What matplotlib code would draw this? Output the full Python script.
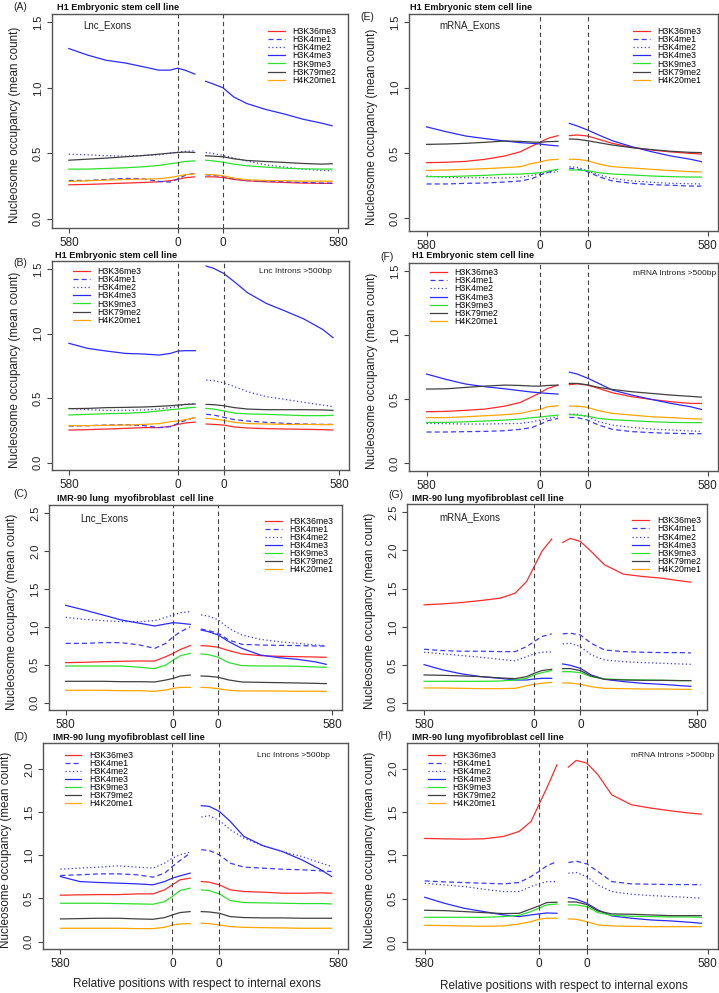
import matplotlib.pyplot as plt

plt.rcParams['font.family'] = ['Liberation Sans', 'DejaVu Sans']

marks = ['H3K36me3', 'H3K4me1', 'H3K4me2', 'H3K4me3', 'H3K9me3', 'H3K79me2', 'H4K20me1']
colors = ['#ff2a2a', '#3a3aff', '#3a3aff', '#2a2aff', '#2ee02e', '#404040', '#ffa500']
styles = ['-', (0, (4, 2.5)), (0, (1, 2)), '-', '-', '-', '-']

# position index: upstream intron + exon start (left), exon end + downstream intron (right)
x_left = [0, 100, 200, 300, 400, 480, 540, 580, 620, 672]
x_right = [730, 770, 823, 880, 950, 1050, 1150, 1250, 1350, 1405]
tick_pos = [0, 580, 823, 1438]
tick_lab = ['580', '0', '0', '580']

# (A) H1, Lnc exons -- first 10 values left segment, last 10 right segment
a_k36me3 = [0.259, 0.262, 0.267, 0.272, 0.277, 0.282, 0.29, 0.30, 0.313, 0.32,
            0.32, 0.32, 0.315, 0.30, 0.29, 0.282, 0.277, 0.272, 0.27, 0.27]
a_k4me1 = [0.292, 0.292, 0.30, 0.308, 0.305, 0.285, 0.28, 0.303, 0.331, 0.348,
           0.336, 0.331, 0.323, 0.305, 0.292, 0.287, 0.282, 0.277, 0.272, 0.272]
a_k4me2 = [0.493, 0.488, 0.481, 0.478, 0.483, 0.488, 0.501, 0.509, 0.514, 0.519,
           0.506, 0.498, 0.483, 0.463, 0.442, 0.412, 0.394, 0.379, 0.369, 0.366]
a_k4me3 = [1.30, 1.25, 1.21, 1.19, 1.16, 1.135, 1.135, 1.15, 1.135, 1.105,
           1.05, 1.03, 1.00, 0.93, 0.88, 0.835, 0.80, 0.76, 0.73, 0.71]
a_k9me3 = [0.379, 0.379, 0.384, 0.389, 0.397, 0.407, 0.42, 0.427, 0.437, 0.442,
           0.447, 0.442, 0.432, 0.417, 0.404, 0.394, 0.386, 0.381, 0.379, 0.379]
a_k79me2 = [0.447, 0.455, 0.463, 0.473, 0.483, 0.493, 0.501, 0.506, 0.509, 0.506,
            0.481, 0.478, 0.473, 0.458, 0.445, 0.437, 0.43, 0.422, 0.417, 0.42]
a_k20me1 = [0.285, 0.29, 0.295, 0.30, 0.303, 0.305, 0.315, 0.325, 0.336, 0.343,
            0.338, 0.336, 0.328, 0.31, 0.297, 0.292, 0.29, 0.287, 0.287, 0.287]

# (B) H1, Lnc introns >500bp
b_k36me3 = [0.253, 0.256, 0.261, 0.266, 0.272, 0.272, 0.282, 0.297, 0.308, 0.315,
            0.30, 0.297, 0.292, 0.277, 0.269, 0.264, 0.261, 0.259, 0.256, 0.253]
b_k4me1 = [0.284, 0.287, 0.292, 0.295, 0.287, 0.272, 0.279, 0.305, 0.328, 0.352,
           0.375, 0.37, 0.352, 0.334, 0.323, 0.313, 0.305, 0.30, 0.297, 0.297]
b_k4me2 = [0.421, 0.411, 0.406, 0.406, 0.409, 0.416, 0.427, 0.437, 0.452, 0.46,
           0.641, 0.636, 0.62, 0.59, 0.551, 0.512, 0.491, 0.468, 0.447, 0.434]
b_k4me3 = [0.926, 0.887, 0.866, 0.848, 0.843, 0.835, 0.848, 0.866, 0.869, 0.869,
           1.526, 1.508, 1.469, 1.404, 1.319, 1.236, 1.177, 1.115, 1.034, 0.97]
b_k9me3 = [0.37, 0.375, 0.38, 0.383, 0.39, 0.401, 0.411, 0.416, 0.424, 0.429,
           0.421, 0.416, 0.401, 0.385, 0.378, 0.375, 0.37, 0.365, 0.365, 0.367]
b_k79me2 = [0.419, 0.421, 0.427, 0.429, 0.432, 0.437, 0.442, 0.447, 0.452, 0.455,
            0.452, 0.45, 0.442, 0.427, 0.416, 0.411, 0.411, 0.411, 0.409, 0.406]
b_k20me1 = [0.287, 0.287, 0.29, 0.292, 0.297, 0.303, 0.318, 0.323, 0.334, 0.349,
            0.344, 0.339, 0.328, 0.313, 0.303, 0.30, 0.297, 0.297, 0.295, 0.295]

# (C) IMR-90, Lnc exons
c_k36me3 = [0.528, 0.533, 0.541, 0.546, 0.55, 0.55, 0.607, 0.651, 0.704, 0.753,
            0.753, 0.748, 0.731, 0.687, 0.643, 0.621, 0.612, 0.607, 0.603, 0.599]
c_k4me1 = [0.783, 0.783, 0.792, 0.792, 0.761, 0.717, 0.783, 0.871, 0.937, 1.003,
           0.973, 0.951, 0.915, 0.827, 0.77, 0.761, 0.757, 0.753, 0.748, 0.748]
c_k4me2 = [1.127, 1.10, 1.083, 1.07, 1.07, 1.083, 1.127, 1.158, 1.188, 1.202,
           1.158, 1.144, 1.092, 0.981, 0.893, 0.836, 0.805, 0.783, 0.761, 0.753]
c_k4me3 = [1.285, 1.224, 1.158, 1.092, 1.048, 1.012, 1.039, 1.056, 1.048, 1.034,
           0.96, 0.937, 0.893, 0.805, 0.717, 0.629, 0.594, 0.572, 0.537, 0.506]
c_k9me3 = [0.484, 0.484, 0.484, 0.484, 0.467, 0.449, 0.497, 0.563, 0.621, 0.651,
           0.643, 0.634, 0.599, 0.528, 0.489, 0.484, 0.484, 0.48, 0.471, 0.467]
c_k79me2 = [0.282, 0.282, 0.282, 0.277, 0.277, 0.273, 0.299, 0.321, 0.352, 0.365,
            0.352, 0.348, 0.335, 0.299, 0.273, 0.268, 0.264, 0.26, 0.255, 0.251]
c_k20me1 = [0.163, 0.163, 0.163, 0.158, 0.158, 0.15, 0.167, 0.189, 0.202, 0.202,
            0.202, 0.198, 0.185, 0.163, 0.154, 0.154, 0.154, 0.15, 0.15, 0.15]

# (D) IMR-90, Lnc introns >500bp
d_k36me3 = [0.538, 0.542, 0.545, 0.545, 0.553, 0.553, 0.60, 0.658, 0.716, 0.735,
            0.696, 0.689, 0.658, 0.60, 0.58, 0.573, 0.561, 0.561, 0.565, 0.561]
d_k4me1 = [0.766, 0.774, 0.785, 0.785, 0.774, 0.747, 0.793, 0.87, 0.94, 1.025,
           1.064, 1.056, 1.006, 0.909, 0.863, 0.851, 0.839, 0.832, 0.82, 0.812]
d_k4me2 = [0.839, 0.851, 0.863, 0.878, 0.863, 0.851, 0.909, 0.967, 1.006, 1.037,
           1.443, 1.458, 1.404, 1.296, 1.199, 1.11, 1.044, 0.986, 0.909, 0.87]
d_k4me3 = [0.754, 0.696, 0.685, 0.677, 0.669, 0.658, 0.696, 0.735, 0.762, 0.793,
           1.574, 1.567, 1.509, 1.393, 1.219, 1.11, 1.044, 0.948, 0.832, 0.754]
d_k9me3 = [0.445, 0.445, 0.445, 0.441, 0.437, 0.433, 0.464, 0.522, 0.592, 0.619,
           0.60, 0.592, 0.553, 0.476, 0.453, 0.449, 0.445, 0.441, 0.441, 0.437]
d_k79me2 = [0.263, 0.267, 0.271, 0.271, 0.263, 0.259, 0.279, 0.309, 0.337, 0.348,
            0.348, 0.344, 0.329, 0.29, 0.279, 0.275, 0.275, 0.271, 0.271, 0.271]
d_k20me1 = [0.155, 0.155, 0.155, 0.155, 0.151, 0.151, 0.166, 0.193, 0.205, 0.209,
            0.213, 0.209, 0.193, 0.174, 0.166, 0.162, 0.159, 0.155, 0.155, 0.155]

# (E) H1, mRNA exons
e_k36me3 = [0.426, 0.429, 0.436, 0.452, 0.477, 0.51, 0.554, 0.582, 0.612, 0.633,
            0.633, 0.638, 0.63, 0.605, 0.574, 0.543, 0.523, 0.508, 0.497, 0.492]
e_k4me1 = [0.263, 0.263, 0.268, 0.27, 0.278, 0.286, 0.304, 0.332, 0.352, 0.375,
           0.383, 0.378, 0.357, 0.319, 0.286, 0.268, 0.258, 0.253, 0.247, 0.247]
e_k4me2 = [0.324, 0.314, 0.311, 0.311, 0.309, 0.314, 0.329, 0.339, 0.349, 0.357,
           0.395, 0.39, 0.365, 0.332, 0.306, 0.286, 0.276, 0.268, 0.265, 0.263]
e_k4me3 = [0.70, 0.663, 0.63, 0.61, 0.592, 0.579, 0.574, 0.569, 0.561, 0.554,
           0.727, 0.707, 0.676, 0.638, 0.594, 0.548, 0.51, 0.477, 0.452, 0.434]
e_k9me3 = [0.319, 0.319, 0.324, 0.329, 0.337, 0.339, 0.344, 0.349, 0.362, 0.375,
           0.37, 0.37, 0.365, 0.349, 0.339, 0.332, 0.324, 0.319, 0.316, 0.316]
e_k79me2 = [0.566, 0.569, 0.574, 0.582, 0.592, 0.589, 0.584, 0.582, 0.587, 0.589,
            0.607, 0.605, 0.594, 0.579, 0.561, 0.541, 0.526, 0.513, 0.505, 0.503]
e_k20me1 = [0.367, 0.37, 0.375, 0.38, 0.388, 0.395, 0.421, 0.431, 0.446, 0.452,
            0.452, 0.452, 0.441, 0.416, 0.395, 0.385, 0.375, 0.365, 0.357, 0.355]

# (F) H1, mRNA introns >500bp
f_k36me3 = [0.402, 0.405, 0.413, 0.423, 0.446, 0.475, 0.519, 0.55, 0.584, 0.61,
            0.613, 0.62, 0.61, 0.584, 0.55, 0.519, 0.498, 0.48, 0.467, 0.467]
f_k4me1 = [0.244, 0.244, 0.247, 0.249, 0.254, 0.265, 0.28, 0.304, 0.332, 0.35,
           0.358, 0.356, 0.337, 0.298, 0.265, 0.247, 0.239, 0.234, 0.231, 0.231]
f_k4me2 = [0.311, 0.309, 0.306, 0.306, 0.309, 0.311, 0.324, 0.337, 0.35, 0.363,
           0.384, 0.382, 0.363, 0.324, 0.298, 0.28, 0.267, 0.26, 0.252, 0.249]
f_k4me3 = [0.696, 0.654, 0.618, 0.597, 0.581, 0.566, 0.555, 0.55, 0.545, 0.54,
           0.711, 0.696, 0.664, 0.623, 0.571, 0.532, 0.498, 0.467, 0.441, 0.42]
f_k9me3 = [0.319, 0.319, 0.324, 0.33, 0.337, 0.345, 0.356, 0.361, 0.368, 0.376,
           0.379, 0.376, 0.368, 0.35, 0.34, 0.332, 0.324, 0.319, 0.317, 0.317]
f_k79me2 = [0.579, 0.581, 0.592, 0.602, 0.61, 0.607, 0.602, 0.602, 0.607, 0.61,
            0.623, 0.623, 0.612, 0.592, 0.576, 0.558, 0.545, 0.532, 0.522, 0.516]
f_k20me1 = [0.356, 0.356, 0.363, 0.371, 0.379, 0.389, 0.41, 0.42, 0.441, 0.449,
            0.446, 0.446, 0.436, 0.41, 0.389, 0.376, 0.363, 0.356, 0.348, 0.345]

# (G) IMR-90, mRNA exons
g_k36me3 = [1.287, 1.30, 1.318, 1.344, 1.374, 1.44, 1.593, 1.789, 1.985, 2.147,
            2.103, 2.155, 2.116, 1.985, 1.811, 1.688, 1.658, 1.636, 1.601, 1.584]
g_k4me1 = [0.707, 0.689, 0.681, 0.681, 0.676, 0.676, 0.742, 0.807, 0.873, 0.908,
           0.908, 0.916, 0.894, 0.785, 0.698, 0.676, 0.668, 0.663, 0.663, 0.659]
g_k4me2 = [0.668, 0.646, 0.624, 0.602, 0.576, 0.554, 0.611, 0.646, 0.668, 0.672,
           0.777, 0.785, 0.742, 0.633, 0.567, 0.545, 0.532, 0.524, 0.515, 0.51]
g_k4me3 = [0.506, 0.436, 0.384, 0.349, 0.327, 0.305, 0.305, 0.318, 0.327, 0.327,
           0.515, 0.497, 0.458, 0.371, 0.314, 0.284, 0.262, 0.249, 0.231, 0.223]
g_k9me3 = [0.288, 0.288, 0.288, 0.288, 0.292, 0.305, 0.327, 0.371, 0.401, 0.428,
           0.414, 0.414, 0.401, 0.349, 0.318, 0.31, 0.305, 0.301, 0.297, 0.297]
g_k79me2 = [0.371, 0.366, 0.358, 0.349, 0.332, 0.323, 0.349, 0.393, 0.428, 0.445,
            0.454, 0.454, 0.428, 0.358, 0.314, 0.305, 0.301, 0.301, 0.297, 0.297]
g_k20me1 = [0.201, 0.201, 0.196, 0.192, 0.192, 0.196, 0.231, 0.249, 0.262, 0.275,
            0.266, 0.266, 0.249, 0.218, 0.196, 0.192, 0.188, 0.188, 0.183, 0.183]

# (H) IMR-90, mRNA introns >500bp
h_k36me3 = [1.195, 1.191, 1.187, 1.191, 1.218, 1.276, 1.391, 1.584, 1.776, 2.046,
            2.019, 2.096, 2.066, 1.931, 1.699, 1.584, 1.545, 1.514, 1.487, 1.476]
h_k4me1 = [0.705, 0.694, 0.686, 0.678, 0.671, 0.686, 0.755, 0.813, 0.879, 0.929,
           0.917, 0.933, 0.902, 0.813, 0.697, 0.671, 0.667, 0.663, 0.663, 0.659]
h_k4me2 = [0.678, 0.659, 0.64, 0.609, 0.582, 0.582, 0.64, 0.671, 0.697, 0.697,
           0.794, 0.802, 0.755, 0.659, 0.582, 0.551, 0.536, 0.524, 0.513, 0.505]
h_k4me3 = [0.516, 0.447, 0.389, 0.351, 0.312, 0.293, 0.312, 0.324, 0.335, 0.331,
           0.513, 0.493, 0.447, 0.37, 0.301, 0.274, 0.254, 0.243, 0.227, 0.216]
h_k9me3 = [0.285, 0.285, 0.285, 0.285, 0.293, 0.308, 0.351, 0.389, 0.428, 0.439,
           0.428, 0.428, 0.408, 0.339, 0.308, 0.297, 0.293, 0.289, 0.289, 0.285]
h_k79me2 = [0.366, 0.362, 0.351, 0.339, 0.328, 0.331, 0.382, 0.416, 0.455, 0.459,
            0.462, 0.462, 0.432, 0.358, 0.324, 0.32, 0.312, 0.304, 0.304, 0.304]
h_k20me1 = [0.193, 0.189, 0.185, 0.181, 0.185, 0.208, 0.235, 0.262, 0.274, 0.274,
            0.266, 0.262, 0.235, 0.197, 0.185, 0.181, 0.177, 0.177, 0.177, 0.177]

h1_title = 'H1 Embryonic stem cell line'
imr_title = 'IMR-90 lung myofibroblast cell line'

W, H = 719, 993

# label, title, note, series, box (l, t, r, b px), ylim, ymax tick, legend anchor, note pos
panels = [
    ('(A)', (13, 7), h1_title, (57, 7), 'Lnc_Exons',
     [a_k36me3, a_k4me1, a_k4me2, a_k4me3, a_k9me3, a_k79me2, a_k20me1],
     (52, 14, 348, 228), (-0.071, 1.564), 1.5, (0.730, 0.939), (0.105, 0.949)),
    ('(B)', (13, 263), h1_title, (55, 255), 'Lnc Introns >500bp',
     [b_k36me3, b_k4me1, b_k4me2, b_k4me3, b_k9me3, b_k79me2, b_k20me1],
     (52, 261, 349, 470), (-0.057, 1.565), 1.5, (0.071, 0.971), (0.943, 0.952)),
    ('(C)', (13, 494), 'IMR-90 lung  myofibroblast  cell line', (57, 498), 'Lnc_Exons',
     [c_k36me3, c_k4me1, c_k4me2, c_k4me3, c_k9me3, c_k79me2, c_k20me1],
     (49, 505, 342, 710), (-0.097, 2.61), 2.5, (0.737, 0.943), (0.106, 0.937)),
    ('(D)', (13, 737), imr_title, (53, 737), 'Lnc Introns >500bp',
     [d_k36me3, d_k4me1, d_k4me2, d_k4me3, d_k9me3, d_k79me2, d_k20me1],
     (43, 743, 348, 949), (-0.085, 2.30), 2.0, (0.071, 0.963), (0.94, 0.938)),
    ('(E)', (360, 17), h1_title, (410, 7), 'mRNA_Exons',
     [e_k36me3, e_k4me1, e_k4me2, e_k4me3, e_k9me3, e_k79me2, e_k20me1],
     (409, 14, 718, 231), (-0.097, 1.564), 1.5, (0.725, 0.940), (0.0995, 0.949)),
    ('(F)', (380, 257), h1_title, (412, 255), 'mRNA Introns >500bp',
     [f_k36me3, f_k4me1, f_k4me2, f_k4me3, f_k9me3, f_k79me2, f_k20me1],
     (409, 263, 718, 471), (-0.06, 1.562), 1.5, (0.068, 0.975), (0.994, 0.951)),
    ('(G)', (388, 495), imr_title, (412, 498), 'mRNA_Exons',
     [g_k36me3, g_k4me1, g_k4me2, g_k4me3, g_k9me3, g_k79me2, g_k20me1],
     (407, 504, 707, 710), (-0.087, 2.605), 2.5, (0.751, 0.940), (0.108, 0.938)),
    ('(H)', (377, 736), imr_title, (412, 737), 'mRNA Introns >500bp',
     [h_k36me3, h_k4me1, h_k4me2, h_k4me3, h_k9me3, h_k79me2, h_k20me1],
     (407, 743, 718, 949), (-0.081, 2.297), 2.0, (0.068, 0.963), (0.987, 0.938)),
]

fig = plt.figure(figsize=(7.19, 9.93), dpi=100)

for (lab, lab_xy, title, title_xy, note, series, bx, ylim, ymax,
     leg_xy, note_xy) in panels:
    l, t, r, b = bx
    ax = fig.add_axes([l / W, 1 - b / H, (r - l) / W, (b - t) / H])
    for name, vals, c, ls in zip(marks, series, colors, styles):
        ax.plot(x_left, vals[:10], color=c, ls=ls, lw=0.9)
        ax.plot(x_right, vals[10:], color=c, ls=ls, lw=0.9, label=name)
    for xv in tick_pos[1:3]:
        ax.axvline(xv, color='#444444', lw=0.8, ls=(0, (4, 3)))
    ax.set_xlim(-90, 1490)
    ax.set_ylim(*ylim)
    ax.set_xticks(tick_pos)
    ax.set_xticklabels(tick_lab)
    yt = [i * 0.5 for i in range(int(ymax / 0.5) + 1)]
    ax.set_yticks(yt)
    ax.set_yticklabels(['%.1f' % v for v in yt], rotation=90, va='center')
    ax.tick_params(direction='out', length=3.5, width=0.8, color='#444444',
                   labelcolor='#222222', pad=3)
    ax.tick_params(axis='x', labelsize=8.5)
    ax.tick_params(axis='y', labelsize=8)
    for sp in ax.spines.values():
        sp.set_color('#555555')
        sp.set_linewidth(1.0)
    ax.set_ylabel('Nucleosome occupancy (mean count)', fontsize=8.4, color='#222222')
    ax.yaxis.set_label_coords(-31 / (r - l), 0.48)
    ax.legend(loc='upper left', bbox_to_anchor=leg_xy, frameon=False, fontsize=6.3,
              handlelength=1.9, handletextpad=0.9, labelspacing=-0.1,
              borderpad=0, borderaxespad=0)
    if '_' in note:
        ax.text(note_xy[0], note_xy[1], note, transform=ax.transAxes,
                ha='left', va='center', fontsize=7, color='#222222')
    else:
        ax.text(note_xy[0], note_xy[1], note, transform=ax.transAxes,
                ha='right', va='center', fontsize=6, color='#222222')
    fig.text(lab_xy[0] / W, 1 - lab_xy[1] / H, lab, ha='left', va='center',
             fontsize=7.5, color='#222222')
    fig.text(title_xy[0] / W, 1 - title_xy[1] / H, title, ha='left', va='center',
             fontsize=6.6, fontweight='bold', color='#111111')

xlab = 'Relative positions with respect to internal exons'
fig.text(197 / W, 1 - 984 / H, xlab, ha='center', va='center', fontsize=8.5,
         color='#222222')
fig.text(564 / W, 1 - 986 / H, xlab, ha='center', va='center', fontsize=8.5,
         color='#222222')

fig.savefig('out.png', dpi=100)
